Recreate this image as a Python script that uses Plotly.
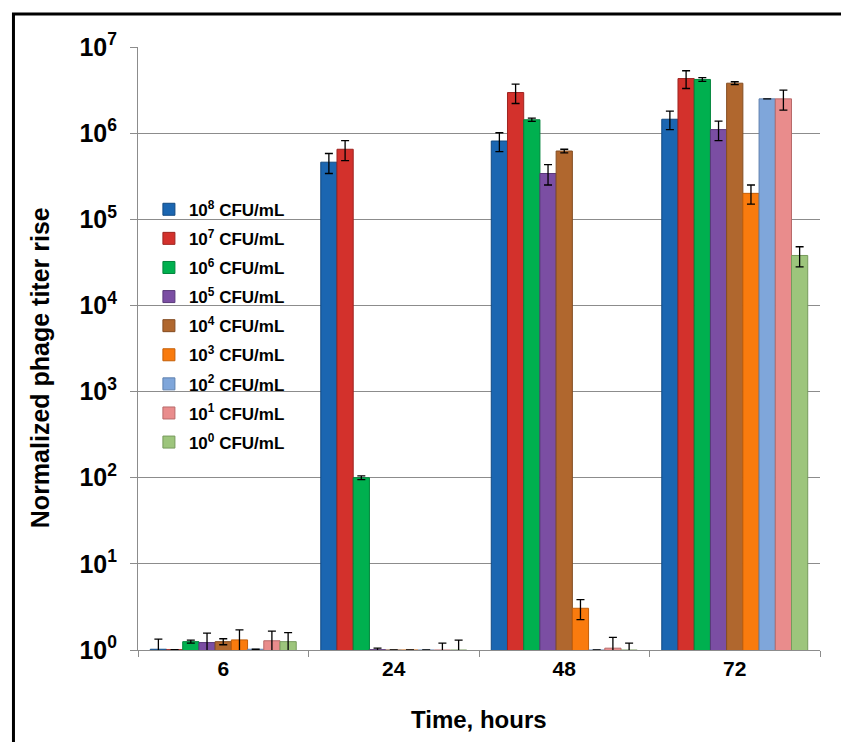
import plotly.graph_objects as go

categories = ["6", "24", "48", "72"]

series_names = [
    "10<sup>8</sup> CFU/mL", "10<sup>7</sup> CFU/mL", "10<sup>6</sup> CFU/mL",
    "10<sup>5</sup> CFU/mL", "10<sup>4</sup> CFU/mL", "10<sup>3</sup> CFU/mL",
    "10<sup>2</sup> CFU/mL", "10<sup>1</sup> CFU/mL", "10<sup>0</sup> CFU/mL",
]

cfu8 = [1.02, 4.6e5, 8.1e5, 1.45e6]
cfu7 = [1.01, 6.5e5, 2.96e6, 4.3e6]
cfu6 = [1.25, 100, 1.43e6, 4.2e6]
cfu5 = [1.22, 1.01, 3.4e5, 1.1e6]
cfu4 = [1.25, 1.0, 6.2e5, 3.8e6]
cfu3 = [1.31, 1.0, 3.05, 2.0e5]
cfu2 = [1.02, 1.0, 1.0, 2.5e6]
cfu1 = [1.28, 1.0, 1.05, 2.5e6]
cfu0 = [1.25, 1.0, 1.0, 3.8e4]

err8 = [0.32, 1.2e5, 2.0e5, 3.5e5]
err7 = [None, 1.7e5, 7.5e5, 1.0e6]
err6 = [0.05, 5, 6e4, 2e5]
err5 = [0.35, 0.04, 9e4, 2.8e5]
err4 = [0.1, None, 3e4, 1.5e5]
err3 = [0.4, None, 0.8, 5e4]
err2 = [None, None, None, None]
err1 = [0.38, 0.2, 0.35, 6.5e5]
err0 = [0.34, 0.3, 0.2, 1.0e4]

values = [cfu8, cfu7, cfu6, cfu5, cfu4, cfu3, cfu2, cfu1, cfu0]
errors = [err8, err7, err6, err5, err4, err3, err2, err1, err0]

colors = ["#1B66B1", "#D3312C", "#00B04F", "#7B4EA3", "#B0672E",
          "#F97B0E", "#7FA6DA", "#E98C8C", "#9DC57C"]
edges = ["#124A82", "#9E2420", "#00843B", "#5A397A", "#844D22",
         "#C45E08", "#5E80AE", "#B86A6A", "#779A5C"]

ytick_vals = [1, 10, 100, 1e3, 1e4, 1e5, 1e6, 1e7]
ytick_text = ["10<sup>%d</sup>" % i for i in range(8)]

fig = go.Figure()
for i, (name, v, e) in enumerate(zip(series_names, values, errors)):
    fig.add_trace(go.Bar(
        x=categories, y=v, name=name, legendgroup=str(i),
        marker=dict(color=colors[i], line=dict(color=edges[i], width=1)),
        error_y=dict(type="data", array=e, symmetric=True, color="black",
                     thickness=1.3, width=4, visible=True),
    ))

font_family = "Arial, Liberation Sans, Helvetica, sans-serif"

fig.update_layout(
    width=841, height=742,
    margin=dict(l=138, r=21, t=47, b=92),
    paper_bgcolor="white", plot_bgcolor="white",
    barmode="group", bargap=0.144, bargroupgap=0,
    font=dict(family=font_family, color="black"),
    showlegend=True,
    legend=dict(x=0.016, y=0.76, xanchor="left", yanchor="top",
                bgcolor="rgba(0,0,0,0)", tracegroupgap=4,
                font=dict(size=17, family=font_family, weight="bold", color="black")),
    xaxis=dict(type="category", showgrid=False, showline=True, linecolor="#8C8C8C",
               linewidth=1, ticks="outside", tickson="boundaries", ticklen=6,
               tickcolor="#8C8C8C",
               tickfont=dict(size=21, family=font_family, weight="bold", color="black")),
    yaxis=dict(type="log", range=[0, 7], tickvals=ytick_vals, ticktext=ytick_text,
               showgrid=True, gridcolor="#8C8C8C", gridwidth=1,
               showline=True, linecolor="#8C8C8C", linewidth=1,
               ticks="outside", ticklen=7, tickcolor="#8C8C8C",
               ticklabelstandoff=8, zeroline=False,
               tickfont=dict(size=25, family=font_family, weight="bold", color="black")),
    annotations=[
        dict(text="Normalized phage titer rise", xref="paper", yref="paper",
             x=-0.1437, y=0.469, xanchor="center", yanchor="middle", textangle=-90,
             showarrow=False,
             font=dict(size=25, family=font_family, weight="bold", color="black")),
        dict(text="Time, hours", xref="paper", yref="paper",
             x=0.5, y=-0.115, xanchor="center", yanchor="middle", showarrow=False,
             font=dict(size=24, family=font_family, weight="bold", color="black")),
    ],
    shapes=[
        dict(type="rect", xref="paper", yref="paper",
             x0=-0.1826, x1=1.2, y0=-0.3, y1=1.0547,
             line=dict(color="black", width=3), fillcolor="rgba(0,0,0,0)", layer="below"),
    ],
)

fig.write_html("out.html")
